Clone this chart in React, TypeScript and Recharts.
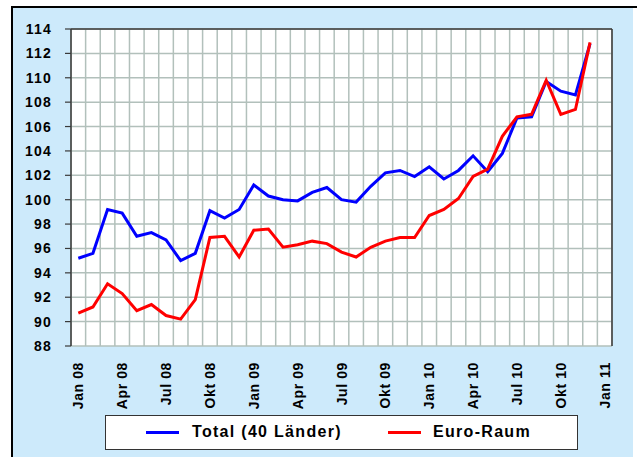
import React from "react"
import { CartesianGrid, Line, LineChart, ReferenceLine, XAxis, YAxis } from "recharts"

// Monatsachse Jan 08 .. Jan 11 (letzte Kategorie ohne Werte)
const months = [
  "Jan 08", "Feb 08", "Mär 08", "Apr 08", "Mai 08", "Jun 08", "Jul 08", "Aug 08", "Sep 08", "Okt 08", "Nov 08", "Dez 08",
  "Jan 09", "Feb 09", "Mär 09", "Apr 09", "Mai 09", "Jun 09", "Jul 09", "Aug 09", "Sep 09", "Okt 09", "Nov 09", "Dez 09",
  "Jan 10", "Feb 10", "Mär 10", "Apr 10", "Mai 10", "Jun 10", "Jul 10", "Aug 10", "Sep 10", "Okt 10", "Nov 10", "Dez 10",
  "Jan 11",
]

const totalValues = [
  95.2, 95.6, 99.2, 98.9, 97.0, 97.3, 96.7, 95.0, 95.6, 99.1, 98.5, 99.2,
  101.2, 100.3, 100.0, 99.9, 100.6, 101.0, 100.0, 99.8, 101.1, 102.2, 102.4, 101.9,
  102.7, 101.7, 102.4, 103.6, 102.3, 103.8, 106.7, 106.8, 109.7, 108.9, 108.6, 112.8,
]

const euroValues = [
  90.7, 91.2, 93.1, 92.3, 90.9, 91.4, 90.5, 90.2, 91.8, 96.9, 97.0, 95.3,
  97.5, 97.6, 96.1, 96.3, 96.6, 96.4, 95.7, 95.3, 96.1, 96.6, 96.9, 96.9,
  98.7, 99.2, 100.1, 101.9, 102.5, 105.2, 106.8, 107.0, 109.8, 107.0, 107.4, 112.9,
]

const yTicks = [88, 90, 92, 94, 96, 98, 100, 102, 104, 106, 108, 110, 112, 114]
const labelTicks = [0, 3, 6, 9, 12, 15, 18, 21, 24, 27, 30, 33, 36]
const boundaryTicks = [...months.map((_, i) => i - 0.5), months.length - 0.5]

const data = months.map((m, i) => ({
  x: i,
  month: m,
  total: totalValues[i],
  euro: euroValues[i],
}))

const FONT = "'Liberation Sans', Arial, sans-serif"
const GRID = "#b2c0bb"
const FRAME = "#3a3a3a"

function MonthTick({ x, y, payload }: any) {
  return (
    <text
      x={x}
      y={y}
      transform={`rotate(-90 ${x} ${y})`}
      textAnchor="end"
      dy="0.36em"
      fontFamily={FONT}
      fontWeight="bold"
      fontSize={14}
      letterSpacing={0.6}
      fill="#000"
    >
      {months[payload.value]}
    </text>
  )
}

export default function App() {
  return (
    <div style={{ position: "absolute", left: 0, top: 0, width: 638, height: 457, background: "#fff", overflow: "hidden" }}>
      <div style={{ position: "absolute", left: 11, top: 6, width: 626, height: 2, background: "#000" }} />
      <div
        style={{
          position: "absolute",
          left: 11,
          top: 8,
          width: 620,
          height: 449,
          background: "#cdeafb",
          borderLeft: "2px solid #000",
        }}
      />
      <div style={{ position: "absolute", left: 0, top: 0 }}>
        <LineChart width={638} height={457} data={data} margin={{ top: 29, right: 26, left: 21, bottom: 41 }}>
          <CartesianGrid xAxisId="grid" stroke={GRID} strokeWidth={1.5} fill="#fff" />
          <XAxis
            xAxisId="grid"
            dataKey="x"
            type="number"
            domain={[-0.5, 36.5]}
            ticks={boundaryTicks}
            interval={0}
            tickFormatter={() => ""}
            height={0}
            tickSize={5}
            tickLine={{ stroke: FRAME, strokeWidth: 1.2 }}
            axisLine={{ stroke: FRAME, strokeWidth: 1.5 }}
          />
          <XAxis
            xAxisId="lab"
            dataKey="x"
            type="number"
            domain={[-0.5, 36.5]}
            ticks={labelTicks}
            interval={0}
            height={70}
            tickSize={0}
            tickMargin={16}
            tickLine={false}
            axisLine={false}
            tick={<MonthTick />}
          />
          <YAxis
            domain={[88, 114]}
            ticks={yTicks}
            interval={0}
            width={50}
            tickSize={6}
            tickMargin={13}
            tickLine={{ stroke: FRAME, strokeWidth: 1.2 }}
            axisLine={{ stroke: FRAME, strokeWidth: 1.5 }}
            tick={{ fill: "#000", fontFamily: FONT, fontWeight: "bold", fontSize: 14, letterSpacing: 1.2 }}
          />
          <ReferenceLine xAxisId="grid" y={114} stroke={FRAME} strokeWidth={1.5} />
          <ReferenceLine xAxisId="grid" x={36.5} stroke={FRAME} strokeWidth={1.5} />
          <Line
            xAxisId="grid"
            dataKey="total"
            name="Total (40 Länder)"
            stroke="#0000ff"
            strokeWidth={3}
            dot={false}
            activeDot={false}
            isAnimationActive={false}
          />
          <Line
            xAxisId="grid"
            dataKey="euro"
            name="Euro-Raum"
            stroke="#ff0000"
            strokeWidth={3}
            dot={false}
            activeDot={false}
            isAnimationActive={false}
          />
        </LineChart>
      </div>
      <div
        style={{
          position: "absolute",
          left: 105,
          top: 415,
          width: 471,
          height: 33,
          background: "#fff",
          border: "1.5px solid #333",
          fontFamily: FONT,
          fontWeight: "bold",
          fontSize: 16,
          letterSpacing: 1.3,
          color: "#000",
        }}
      >
        <div style={{ position: "absolute", left: 40, top: 15, width: 33, height: 3, background: "#0000ff" }} />
        <span style={{ position: "absolute", left: 86, top: 7, whiteSpace: "nowrap" }}>Total (40 Länder)</span>
        <div style={{ position: "absolute", left: 282, top: 15, width: 33, height: 3, background: "#ff0000" }} />
        <span style={{ position: "absolute", left: 327, top: 7, whiteSpace: "nowrap" }}>Euro-Raum</span>
      </div>
    </div>
  )
}
